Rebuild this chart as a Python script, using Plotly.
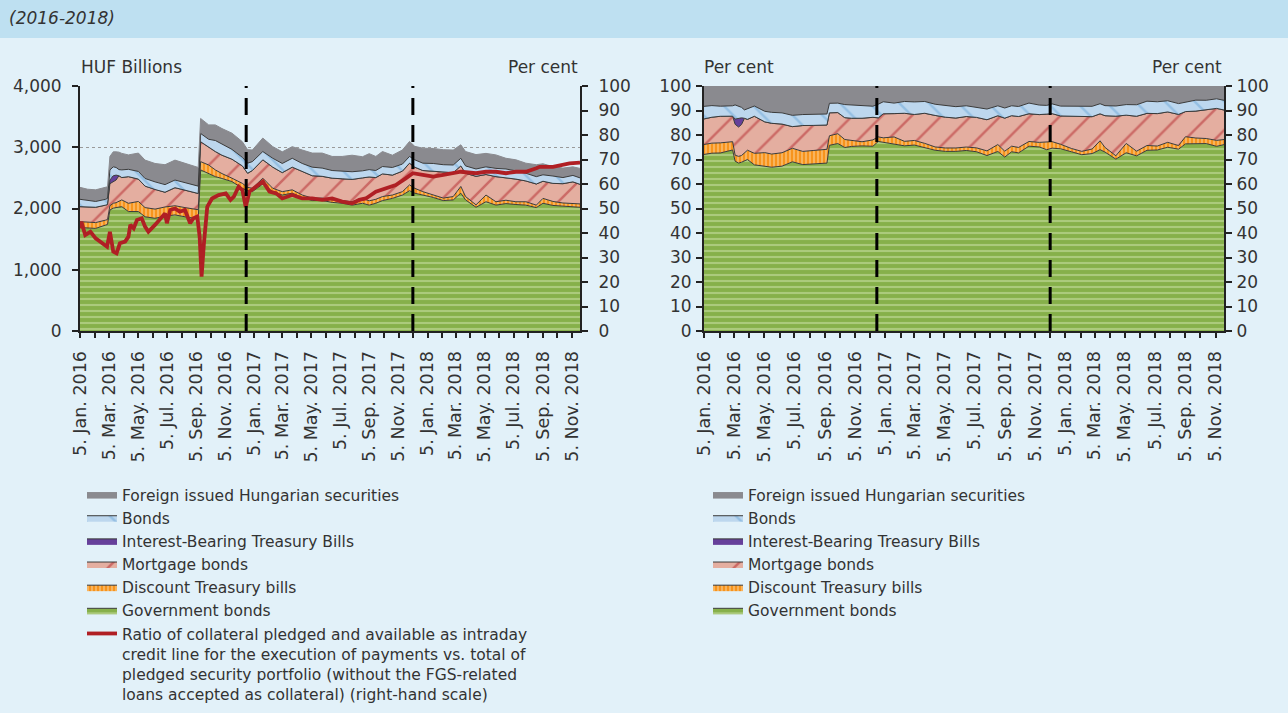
import plotly.graph_objects as go
import pandas as pd

# ---------------- data ----------------
dates = ["2016-01-04","2016-01-20","2016-02-06","2016-02-27","2016-03-02","2016-03-07","2016-03-14",
         "2016-03-20","2016-03-26","2016-04-01","2016-04-15","2016-05-06","2016-05-20","2016-06-10",
         "2016-07-01","2016-07-22","2016-08-12","2016-09-03","2016-09-09","2016-09-14","2016-10-01",
         "2016-10-15","2016-10-29","2016-11-19","2016-12-11","2016-12-22","2017-01-01","2017-01-23",
         "2017-02-13","2017-03-05","2017-03-26","2017-04-16","2017-05-07","2017-05-28","2017-06-18",
         "2017-07-09","2017-07-30","2017-08-21","2017-09-04","2017-09-18","2017-10-02","2017-10-23",
         "2017-11-13","2017-11-28","2017-12-09","2017-12-26","2018-01-17","2018-02-07","2018-02-28",
         "2018-03-16","2018-03-26","2018-04-17","2018-05-08","2018-05-29","2018-06-19","2018-07-10",
         "2018-07-31","2018-08-22","2018-09-05","2018-09-26","2018-10-17","2018-11-07","2018-11-22"]

government_bonds = [1690,1680,1675,1730,1740,1975,2005,2015,2025,2030,
                    1950,1950,1865,1840,1875,1895,1865,1840,1830,2630,
                    2575,2520,2490,2440,2330,2290,2275,2400,2275,2220,
                    2250,2180,2130,2130,2100,2085,2055,2085,2055,2085,
                    2130,2165,2220,2290,2250,2220,2180,2130,2140,2250,
                    2140,2020,2110,2055,2080,2065,2055,2015,2085,2050,
                    2035,2020,2020]
discount_treasury_bills = [95,95,95,80,80,70,80,80,95,110,
                           135,165,150,150,150,150,150,150,150,135,
                           135,110,80,55,80,55,55,95,55,55,
                           55,40,40,40,40,45,55,80,70,65,
                           65,55,55,95,80,55,40,40,55,110,
                           55,40,110,55,55,45,55,40,80,65,
                           55,65,55]
mortgage_bonds = [245,245,250,245,245,360,350,370,415,365,
                  435,365,350,320,240,295,280,265,265,325,
                  290,300,300,310,285,230,290,300,345,310,
                  370,380,365,355,355,355,365,335,390,355,
                  370,325,335,355,345,345,390,420,390,335,
                  380,465,335,410,370,370,340,345,280,295,
                  315,350,320]
interest_bearing_tbills = [0,0,0,0,0,60,100,80,0,0,
                           0,0,0,0,0,0,0,0,0,0,
                           0,0,0,0,0,0,0,0,0,0,
                           0,0,0,0,0,0,0,0,0,0,
                           0,0,0,0,0,0,0,0,0,0,
                           0,0,0,0,0,0,0,0,0,0,
                           0,0,0]
bonds = [120,110,95,95,100,165,145,125,100,125,
         120,125,125,125,125,125,125,125,120,135,
         130,180,180,160,140,165,145,135,145,150,
         145,135,140,135,125,120,125,115,120,115,
         120,125,115,110,120,120,125,125,125,125,
         120,120,125,135,140,135,125,120,105,120,
         100,105,105]
foreign_issued = [195,185,190,195,190,220,245,255,285,270,
                  235,300,300,300,325,325,315,300,305,245,
                  235,255,255,265,255,220,190,220,190,190,
                  190,220,230,245,230,245,270,230,260,230,
                  245,200,230,245,220,245,245,245,245,220,
                  235,235,220,220,175,180,165,195,180,155,
                  155,140,155]

ratio_dates = ["2016-01-04","2016-01-07","2016-01-15","2016-01-26","2016-02-06","2016-02-16","2016-03-01",
               "2016-03-07","2016-03-14","2016-03-21","2016-03-28","2016-04-08","2016-04-15","2016-04-19",
               "2016-04-26","2016-05-03","2016-05-13","2016-05-20","2016-05-27","2016-06-10","2016-06-21",
               "2016-07-01","2016-07-05","2016-07-12","2016-07-22","2016-08-01","2016-08-12","2016-08-23",
               "2016-08-30","2016-09-07","2016-09-12","2016-09-16","2016-09-21","2016-09-28","2016-10-08",
               "2016-10-22","2016-11-06","2016-11-16","2016-11-23","2016-12-03","2016-12-11","2016-12-18",
               "2016-12-26","2017-01-09","2017-01-23","2017-02-06","2017-02-20","2017-03-05","2017-03-26",
               "2017-04-16","2017-05-07","2017-05-28","2017-06-18","2017-07-09","2017-07-30","2017-08-14",
               "2017-08-28","2017-09-18","2017-10-09","2017-10-30","2017-11-20","2017-12-05","2017-12-26",
               "2018-01-17","2018-02-07","2018-02-28","2018-03-16","2018-04-17","2018-05-08","2018-05-29",
               "2018-06-19","2018-07-10","2018-07-31","2018-08-22","2018-08-29","2018-09-26","2018-10-17",
               "2018-10-31","2018-11-22"]
ratio_pct = [41.9,44.6,39.2,40.5,37.8,36.5,34.4,40.5,32.4,31.7,35.8,36.5,38.5,43.3,41.9,45.3,46.0,42.6,
             40.5,43.3,46.0,48.0,44.0,49.4,50.0,48.7,49.4,44.0,46.0,46.7,38.5,22.2,35.8,50.7,54.1,55.5,
             56.2,53.5,54.8,58.9,57.5,50.7,56.9,58.9,61.0,56.9,56.2,54.1,55.5,54.1,54.1,53.5,54.1,52.8,
             52.1,53.5,54.1,56.9,58.2,59.6,62.3,64.4,63.7,63.0,63.7,64.4,65.0,64.4,65.0,65.0,64.4,65.0,
             65.0,66.4,67.0,67.0,67.8,68.4,68.7]

period_marks = ["2016-12-19", "2017-12-05"]
x_range = ["2016-01-04", "2018-11-22"]

# ---------------- styling ----------------
FONT = "DejaVu Sans"
TXT = "#333333"
AX = "#222222"
OUT = "#3a3a3a"
W, H = 1288, 713

series = [
    # name, values, fill, pattern, rank
    ("Government bonds", government_bonds, "#86b04a",
     dict(shape="-", bgcolor="#86b04a", fgcolor="#cfe3ad", size=6, solidity=0.35), 6),
    ("Discount Treasury bills", discount_treasury_bills, "#f7941d",
     dict(shape="|", bgcolor="#f7941d", fgcolor="#fde2bd", size=4, solidity=0.4), 5),
    ("Mortgage bonds", mortgage_bonds, "#e4aea0",
     dict(shape="/", bgcolor="#e4aea0", fgcolor="#b3262b", size=21, solidity=0.12), 4),
    ("Interest-Bearing Treasury Bills", interest_bearing_tbills, "#66409b", None, 3),
    ("Bonds", bonds, "#bdd7ee",
     dict(shape="\\", bgcolor="#bdd7ee", fgcolor="#6ea8d8", size=21, solidity=0.12), 2),
    ("Foreign issued Hungarian securities", foreign_issued, "#8a8a8f", None, 1),
]

fig = go.Figure()

for panel in ("left", "right"):
    xa = "x" if panel == "left" else "x2"
    ya = "y" if panel == "left" else "y3"
    for i, (name, vals, color, pat, rank) in enumerate(series):
        kw = dict(
            x=dates, y=vals, name=name, mode="lines",
            stackgroup="stk_" + panel,
            fillcolor=color,
            line=dict(color=OUT if name != "Foreign issued Hungarian securities" else color, width=1),
            xaxis=xa, yaxis=ya,
            legend="legend" if panel == "left" else "legend2",
            legendrank=rank, hoverinfo="skip",
        )
        if pat:
            kw["fillpattern"] = pat
        if panel == "right" and i == 0:
            kw["groupnorm"] = "percent"
        fig.add_trace(go.Scatter(**kw))

fig.add_trace(go.Scatter(
    x=ratio_dates, y=ratio_pct, mode="lines", xaxis="x", yaxis="y2",
    line=dict(color="#b01f24", width=3.8),
    name=("Ratio of collateral pledged and available as intraday<br>"
          "credit line for the execution of payments vs. total of<br>"
          "pledged security portfolio (without the FGS-related<br>"
          "loans accepted as collateral) (right-hand scale)"),
    legend="legend", legendrank=7, hoverinfo="skip"))

# invisible trace so the right-hand axis of the right panel is drawn
fig.add_trace(go.Scatter(x=[x_range[0]], y=[0], xaxis="x2", yaxis="y4", mode="lines",
                         showlegend=False, line=dict(width=0), hoverinfo="skip"))

# ---------------- axes ----------------
tickvals = [d + pd.Timedelta(days=4) for d in pd.date_range("2016-01-01", "2018-11-01", freq="MS")]
ticktext = [(f"5. {d.strftime('%b')}. {d.year}" if i % 2 == 0 else "") for i, d in enumerate(tickvals)]

def px_x(p):
    return p / W

def px_y(p):
    return 1 - p / H

ydom = [px_y(331), px_y(86)]
tickfont = dict(family=FONT, size=17, color=TXT)

xcommon = dict(type="date", range=x_range, tickvals=tickvals, ticktext=ticktext, tickangle=-90,
               ticks="outside", ticklen=5, tickwidth=1.5, tickcolor=AX, showline=True, linecolor=AX,
               linewidth=2, showgrid=False, zeroline=False, ticklabelstandoff=6,
               tickfont=dict(family=FONT, size=17.5, color=TXT))
ycommon = dict(showline=True, linecolor=AX, linewidth=2, ticks="outside", ticklen=6, tickwidth=2,
               tickcolor=AX, zeroline=False, tickfont=tickfont, domain=ydom)

fig.update_layout(
    xaxis=dict(domain=[px_x(80), px_x(580)], anchor="y", **xcommon),
    yaxis=dict(range=[0, 4000], dtick=1000, tickformat=",", showgrid=True, gridcolor="#9a9a9a",
               griddash="dot", gridwidth=1, anchor="x", ticklabelstandoff=7, **ycommon),
    yaxis2=dict(range=[0, 100], dtick=10, overlaying="y", side="right", anchor="x", showgrid=False,
                ticklabelstandoff=7, **ycommon),
    xaxis2=dict(domain=[px_x(704), px_x(1224)], anchor="y3", **xcommon),
    yaxis3=dict(range=[0, 100], dtick=10, showgrid=False, anchor="x2", ticklabelstandoff=1,
                **ycommon),
    yaxis4=dict(range=[0, 100], dtick=10, overlaying="y3", side="right", anchor="x2", showgrid=False,
                ticklabelstandoff=1, **ycommon),
)

# ---------------- layout ----------------
shapes = [dict(type="rect", xref="paper", yref="paper", x0=0, x1=1, y0=px_y(38), y1=1,
               fillcolor="#bee0f1", line=dict(width=0), layer="below")]
for xr, yr in (("x", "y domain"), ("x2", "y3 domain")):
    for d in period_marks:
        shapes.append(dict(type="line", xref=xr, yref=yr, x0=d, x1=d, y0=0, y1=1, layer="above",
                           line=dict(color="black", width=3, dash="17px,10px")))

ann_font = dict(family=FONT, size=17, color=TXT)
annotations = [
    dict(text="(2016-2018)", x=px_x(7), y=px_y(18), xref="paper", yref="paper", xanchor="left",
         yanchor="middle", showarrow=False,
         font=dict(family=FONT, size=17, color=TXT, style="italic")),
    dict(text="HUF Billions", x=px_x(79), y=px_y(67), xref="paper", yref="paper", xanchor="left",
         yanchor="middle", showarrow=False, font=ann_font),
    dict(text="Per cent", x=px_x(580), y=px_y(67), xref="paper", yref="paper", xanchor="right",
         yanchor="middle", showarrow=False, font=ann_font),
    dict(text="Per cent", x=px_x(702), y=px_y(67), xref="paper", yref="paper", xanchor="left",
         yanchor="middle", showarrow=False, font=ann_font),
    dict(text="Per cent", x=px_x(1224), y=px_y(67), xref="paper", yref="paper", xanchor="right",
         yanchor="middle", showarrow=False, font=ann_font),
]

legend_common = dict(xanchor="left", yanchor="top", bgcolor="rgba(0,0,0,0)", borderwidth=0,
                     font=dict(family=FONT, size=15.5, color=TXT), valign="top", tracegroupgap=0,
                     traceorder="normal", itemclick=False, itemdoubleclick=False)

fig.update_layout(
    width=W, height=H,
    margin=dict(l=0, r=0, t=0, b=0, pad=0, autoexpand=False),
    paper_bgcolor="#e2f1f9",
    plot_bgcolor="rgba(0,0,0,0)",
    font=dict(family=FONT, size=17, color=TXT),
    shapes=shapes,
    annotations=annotations,
    legend=dict(x=px_x(82), y=px_y(478), **legend_common),
    legend2=dict(x=px_x(708), y=px_y(478), **legend_common),
    showlegend=True,
)

fig.write_html("out.html", config={"displayModeBar": False},
               post_script="document.body.style.margin='0px';document.body.style.overflow='hidden';")
